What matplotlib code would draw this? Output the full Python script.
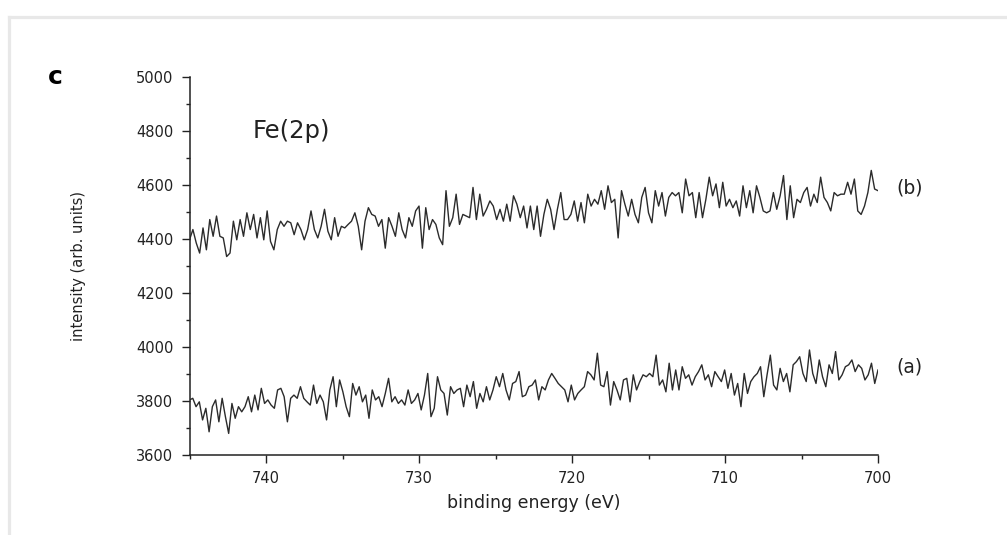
import numpy as np
import matplotlib
matplotlib.use("Agg")
import matplotlib.pyplot as plt
from matplotlib.lines import Line2D
from matplotlib.ticker import MultipleLocator

# значения (шаг по энергии равномерный, 745 -> 700 эВ)
spectrum_b = [
    4397, 4435, 4385, 4348, 4441, 4360, 4472, 4410, 4485, 4410,
    4404, 4335, 4348, 4466, 4397, 4472, 4410, 4497, 4435, 4491,
    4404, 4479, 4397, 4504, 4391, 4360, 4435, 4466, 4447, 4466,
    4460, 4416, 4460, 4435, 4397, 4435, 4504, 4435, 4404, 4447,
    4510, 4429, 4397, 4479, 4410, 4447, 4441, 4454, 4466, 4497,
    4447, 4360, 4466, 4516, 4491, 4485, 4447, 4472, 4366, 4479,
    4447, 4410, 4497, 4435, 4404, 4479, 4447, 4504, 4522, 4366,
    4516, 4435, 4472, 4454, 4404, 4379, 4579, 4447, 4479,
    4566, 4454, 4491, 4485, 4479, 4591, 4472, 4566, 4485, 4510,
    4541, 4522, 4472, 4510, 4466, 4529, 4466, 4560, 4529, 4479,
    4522, 4441, 4522, 4435, 4522, 4410, 4491, 4547, 4510, 4435,
    4510, 4572, 4472, 4472, 4491, 4541, 4466, 4535, 4460, 4566,
    4522, 4547, 4529, 4579, 4510, 4597, 4535, 4547, 4404, 4579,
    4529, 4485, 4547, 4491, 4460, 4554, 4591, 4497, 4460, 4579,
    4522, 4572, 4485, 4554, 4572, 4560, 4572, 4497, 4622, 4560,
    4572, 4479, 4572, 4479, 4547, 4629,
    4560, 4604, 4516, 4610, 4522, 4547, 4516, 4541, 4485, 4597,
    4516, 4579, 4497, 4597, 4554, 4504, 4497, 4504, 4572, 4510,
    4560, 4635, 4472, 4597, 4479, 4547, 4535, 4572, 4591, 4522,
    4566, 4535, 4629, 4554, 4535, 4504, 4572, 4560, 4566, 4566,
    4610, 4566, 4622, 4504, 4491, 4522, 4572, 4654, 4585, 4579,
]

spectrum_a = [
    3804, 3810, 3779, 3797, 3730, 3773, 3686, 3779, 3804, 3723,
    3810, 3742, 3680, 3791, 3736, 3779, 3760, 3779, 3816, 3760,
    3822, 3767, 3847, 3791, 3804, 3785, 3773, 3841, 3847, 3816,
    3723, 3810, 3822, 3810, 3853, 3810, 3797, 3785, 3859, 3791,
    3822, 3797, 3730, 3841, 3890, 3779, 3878, 3834, 3779, 3742,
    3865, 3822, 3853, 3797, 3822, 3736, 3841, 3804, 3816, 3779,
    3828, 3884, 3797, 3816, 3791, 3804, 3785, 3841, 3791, 3804,
    3828, 3767, 3822, 3902, 3742, 3773, 3890, 3841, 3828, 3748,
    3853, 3828, 3841,
    3847, 3779, 3859, 3816, 3872, 3773, 3828, 3797, 3853, 3804,
    3841, 3890, 3853, 3902, 3841, 3804, 3865, 3872, 3909, 3816,
    3822, 3853, 3859, 3878, 3804, 3853, 3841, 3878, 3902, 3884,
    3865, 3853, 3841, 3797, 3859, 3804, 3828, 3841, 3853, 3909,
    3897, 3878, 3977, 3859, 3853, 3909, 3785, 3872, 3841, 3804,
    3878, 3884, 3797, 3897, 3841, 3872, 3897, 3890, 3902, 3890,
    3970, 3859, 3878, 3834, 3940, 3841, 3915, 3841, 3927, 3884,
    3897, 3859, 3890, 3909, 3934, 3878, 3897, 3853, 3909,
    3890, 3872, 3915, 3847, 3902, 3822, 3865, 3779, 3902, 3828,
    3872, 3890, 3902, 3927, 3816, 3897, 3970, 3859, 3841, 3921,
    3872, 3902, 3834, 3934, 3946, 3964, 3902, 3872, 3989, 3902,
    3865, 3952, 3890, 3853, 3934, 3902, 3983, 3878, 3897, 3927,
    3934, 3952, 3909, 3934, 3921, 3878, 3897, 3940, 3865, 3915,
]

e_start, e_end = 745, 700
energy_b = np.linspace(e_start, e_end, len(spectrum_b))
energy_a = np.linspace(e_start, e_end, len(spectrum_a))

fig = plt.figure(figsize=(10.07, 5.35), dpi=100)
ax = fig.add_axes([0.1882, 0.1495, 0.6837, 0.7066])

ax.plot(energy_b, spectrum_b, color='#2b2b2b', linewidth=1.0)
ax.plot(energy_a, spectrum_a, color='#2b2b2b', linewidth=1.0)

ax.set_xlim(745, 700)
ax.set_ylim(3600, 5000)
ax.xaxis.set_major_locator(MultipleLocator(10))
ax.xaxis.set_minor_locator(MultipleLocator(5))
ax.yaxis.set_major_locator(MultipleLocator(200))
ax.yaxis.set_minor_locator(MultipleLocator(100))

for side in ['top', 'right']:
    ax.spines[side].set_visible(False)
for side in ['left', 'bottom']:
    ax.spines[side].set_linewidth(1.1)
    ax.spines[side].set_color('#222222')

ax.tick_params(which='major', direction='out', length=5.5, width=1.0,
               labelsize=10.5, colors='#222222', pad=6)
ax.tick_params(which='minor', direction='out', length=3, width=1.0,
               colors='#222222')

ax.set_xlabel('binding energy (eV)', fontsize=12.5, color='#222222', labelpad=6)
ax.set_ylabel('intensity (arb. units)', fontsize=10.5, color='#222222', labelpad=36)

ax.text(740.9, 4800, 'Fe(2p)', fontsize=17.5, color='#222222', va='center', ha='left')
ax.text(698.8, 4590, '(b)', fontsize=13.5, color='#222222', va='center', ha='left',
        clip_on=False)
ax.text(698.8, 3925, '(a)', fontsize=13.5, color='#222222', va='center', ha='left',
        clip_on=False)

fig.text(55 / 1007, 1 - 77 / 535, 'c', fontsize=18, fontweight='bold',
         ha='center', va='center')

# светло-серая рамка сверху и слева
y_top = 1 - 16.5 / 535
x_left = 8.5 / 1007
fig.add_artist(Line2D([x_left, 1], [y_top, y_top], color='#e8e8e8', linewidth=2.3))
fig.add_artist(Line2D([x_left, x_left], [0, y_top], color='#e8e8e8', linewidth=2.3))

fig.savefig('out.png', dpi=100)
